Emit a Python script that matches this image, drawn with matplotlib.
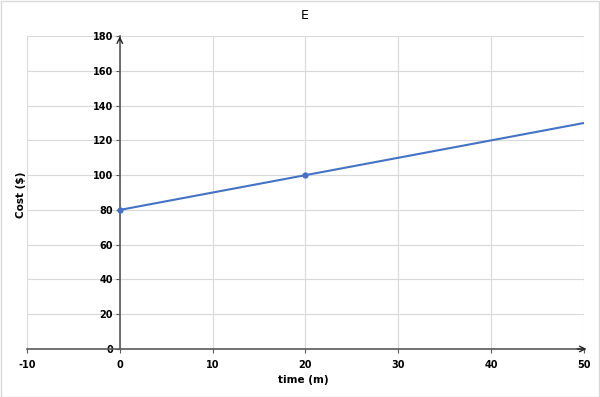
import matplotlib.pyplot as plt
import numpy as np

plt.rcParams['axes.unicode_minus'] = False

# line data
line_x = [0, 50]
line_y = [80, 130]
pts_x = [0, 20]
pts_y = [80, 100]

xticks = [-10, 0, 10, 20, 30, 40, 50]
yticks = [0, 20, 40, 60, 80, 100, 120, 140, 160, 180]

fig = plt.figure(figsize=(6, 3.97), dpi=100)
ax = fig.add_axes([0.045, 0.121, 0.928, 0.788])

ax.plot(line_x, line_y, color='#4472C4', lw=1.5, zorder=3)
ax.plot(pts_x, pts_y, 'o', color='#4472C4', ms=3.5, zorder=4)

ax.set_xlim(-10, 50)
ax.set_ylim(0, 180)
ax.set_xticks(xticks)
ax.set_yticks(yticks)
ax.grid(True, color='#d9d9d9', lw=0.8)
ax.set_axisbelow(True)

for s in ['top', 'right']:
    ax.spines[s].set_visible(False)
ax.spines['left'].set_position(('data', 0))
ax.spines['bottom'].set_position(('data', 0))
ax.spines['left'].set_color('#595959')
ax.spines['bottom'].set_color('#595959')
ax.spines['left'].set_linewidth(1.2)
ax.spines['bottom'].set_linewidth(1.2)

ax.tick_params(axis='both', length=3, color='#595959', labelsize=7)
ax.tick_params(axis='y', pad=2)
ax.tick_params(axis='x', pad=5)
for lab in ax.get_xticklabels() + ax.get_yticklabels():
    lab.set_fontweight('bold')

# arrows on the axes
ax.annotate('', xy=(50.6, 0), xytext=(49, 0),
            arrowprops=dict(arrowstyle='->', color='#262626', lw=1.0),
            annotation_clip=False)
ax.annotate('', xy=(0, 181.5), xytext=(0, 176),
            arrowprops=dict(arrowstyle='->', color='#262626', lw=1.0),
            annotation_clip=False)

fig.text(0.507, 0.962, 'E', ha='center', va='center', fontsize=9)
fig.text(0.505, 0.043, 'time (m)', ha='center', va='center', fontsize=7.5, fontweight='bold')
fig.text(0.035, 0.51, 'Cost ($)', ha='center', va='center', rotation=90, fontsize=7.5, fontweight='bold')

# outer border
fig.patches.append(plt.Rectangle((0.001, 0.001), 0.997, 0.997, transform=fig.transFigure,
                                 fill=False, edgecolor='#d9d9d9', lw=1))

fig.savefig('out.png', dpi=100)
